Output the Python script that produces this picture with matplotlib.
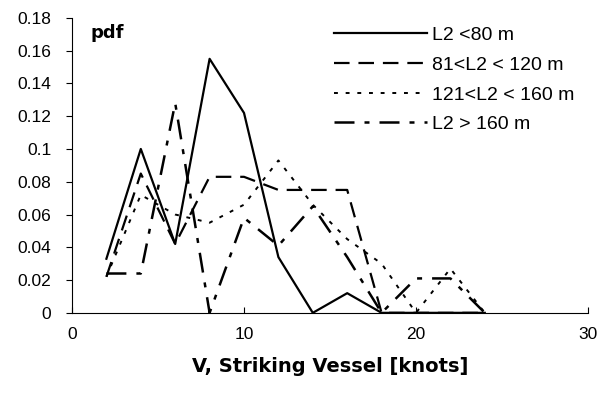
import matplotlib
matplotlib.use("Agg")
import matplotlib.pyplot as plt

plt.rcParams['font.family'] = ['Liberation Sans', 'DejaVu Sans']

# speed bins (knots)
speed = [2, 4, 6, 8, 10, 12, 14, 16, 18, 20, 22, 24]

# pdf values
pdf_small = [0.033, 0.100, 0.042, 0.155, 0.122, 0.034, 0.000, 0.012, 0.000, 0.000, 0.000, 0.000]
pdf_mid = [0.022, 0.085, 0.042, 0.083, 0.083, 0.075, 0.075, 0.075, 0.000, 0.000, 0.000, 0.000]
pdf_large = [0.022, 0.072, 0.060, 0.055, 0.066, 0.093, 0.066, 0.045, 0.030, 0.000, 0.027, 0.000]
pdf_xlarge = [0.024, 0.024, 0.128, 0.000, 0.058, 0.041, 0.065, 0.034, 0.000, 0.021, 0.021, 0.000]

labels = ['L2 <80 m', '81<L2 < 120 m', '121<L2 < 160 m', 'L2 > 160 m']
y_ticks = [0, 0.02, 0.04, 0.06, 0.08, 0.1, 0.12, 0.14, 0.16, 0.18]
y_tick_labels = ['0', '0.02', '0.04', '0.06', '0.08', '0.1', '0.12', '0.14', '0.16', '0.18']
x_ticks = [0, 10, 20, 30]

fig, ax = plt.subplots(figsize=(6, 3.97), dpi=100)
fig.subplots_adjust(left=0.12, right=0.98, top=0.955, bottom=0.212)

ax.plot(speed, pdf_small, color='black', lw=1.6, label=labels[0])
ax.plot(speed, pdf_mid, color='black', lw=1.6, dashes=(7, 4), label=labels[1])
ax.plot(speed, pdf_large, color='black', lw=1.4, dashes=(2, 4), label=labels[2])
ax.plot(speed, pdf_xlarge, color='black', lw=1.8, dashes=(8, 4, 2, 4), label=labels[3])

ax.set_xlim(0, 30)
ax.set_ylim(0, 0.18)
ax.set_xticks(x_ticks)
ax.set_yticks(y_ticks)
ax.set_yticklabels(y_tick_labels)
ax.tick_params(axis='y', direction='out', length=4, labelsize=12.5, pad=11)
ax.tick_params(axis='x', direction='in', length=4, labelsize=12.5, pad=10)

for side in ['top', 'right']:
    ax.spines[side].set_visible(False)
for side in ['left', 'bottom']:
    ax.spines[side].set_linewidth(0.8)

ax.text(0.035, 0.95, 'pdf', transform=ax.transAxes, fontsize=13, family='DejaVu Sans',
        fontweight='bold', va='center', ha='left')
ax.set_xlabel('V, Striking Vessel [knots]', fontsize=14, family='DejaVu Sans',
              fontweight='bold', labelpad=11)

ax.legend(loc='upper left', bbox_to_anchor=(0.485, 1.01), frameon=False, fontsize=14,
          handlelength=4.8, handletextpad=0.25, labelspacing=0.62, borderaxespad=0.2)

fig.savefig('out.png', dpi=100)
